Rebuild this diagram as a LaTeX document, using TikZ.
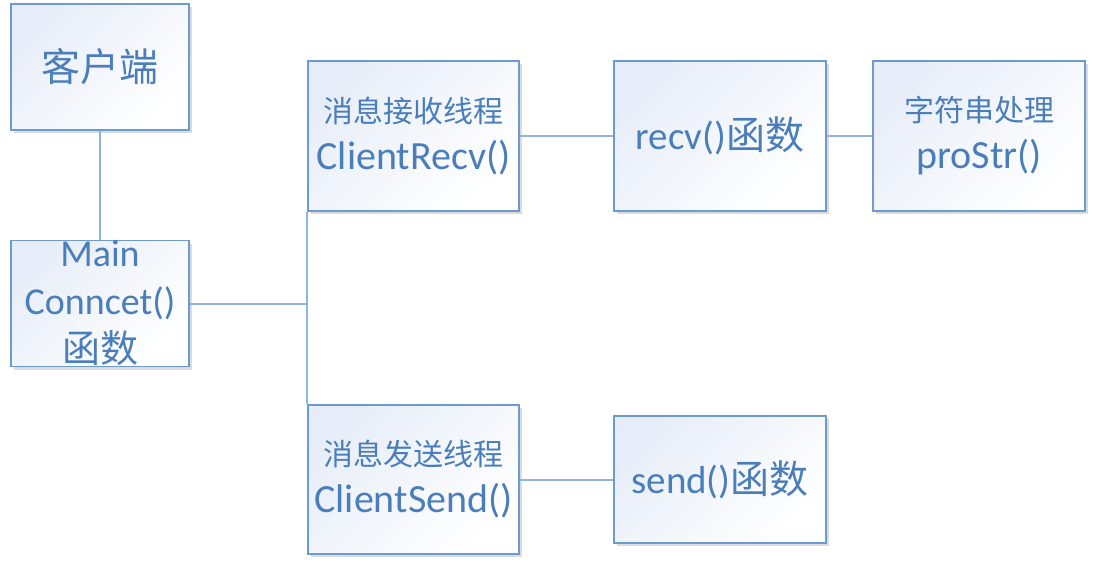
\documentclass[tikz,border=0pt]{standalone}
\usepackage{fontspec}
\setmainfont{Carlito}
\newfontfamily\cjk{Noto Sans CJK SC}
\usetikzlibrary{shadows}
\definecolor{txt}{RGB}{74,126,187}
\definecolor{edge}{RGB}{108,155,210}
\definecolor{wire}{RGB}{142,180,227}
\definecolor{topfill}{RGB}{231,237,248}
\newcommand{\zh}[1]{{\cjk #1}}
\newcommand{\fs}[2]{\fontsize{#1}{#2}\selectfont}

\begin{document}
\begin{tikzpicture}[x=1pt,y=-1pt,
  box/.style={draw=edge,line width=1.5pt,text=txt,align=center,inner sep=0pt,
    font=\fs{40}{47},
    top color=topfill,bottom color=white,shading angle=45,
    drop shadow={shadow xshift=3pt,shadow yshift=-3pt,fill=black!40,opacity=.35}},
  link/.style={draw=wire,line width=2pt}]
\useasboundingbox (0,0) rectangle (1097,567);

%%% left column
\node[box,minimum width=178pt,minimum height=126pt] (client) at (100,67) {\fs{39}{47}\zh{客户端}};
\node[box,minimum width=178pt,minimum height=126pt,font=\fs{38}{48}] (main) at (100,303.5)
  {Main\\Conncet()\\\zh{函数}};

%%% threads
\node[box,minimum width=211pt,minimum height=150pt] (recvth) at (413.5,136)
  {\fs{30}{47}\zh{消息接收线程}\\ClientRecv()};
\node[box,minimum width=211pt,minimum height=149pt] (sendth) at (413.5,479.5)
  {\fs{30}{47}\zh{消息发送线程}\\ClientSend()};

%%% functions
\node[box,minimum width=212pt,minimum height=150pt] (recv) at (720,136) {\fs{39}{47}recv()\zh{函数}};
\node[box,minimum width=212pt,minimum height=150pt] (prostr) at (979,136)
  {\fs{30}{47}\zh{字符串处理}\\proStr()};
\node[box,minimum width=212pt,minimum height=127pt] (send) at (720,479.5) {\fs{39}{47}send()\zh{函数}};

%%% connectors
\draw[link] (client) -- (main);
\draw[link] (main.east) -- (main.east -| recvth.west);
\draw[link] (recvth.south west) -- (sendth.north west);
\draw[link] (recvth) -- (recv);
\draw[link] (recv) -- (prostr);
\draw[link] (sendth) -- (send);
\end{tikzpicture}
\end{document}
